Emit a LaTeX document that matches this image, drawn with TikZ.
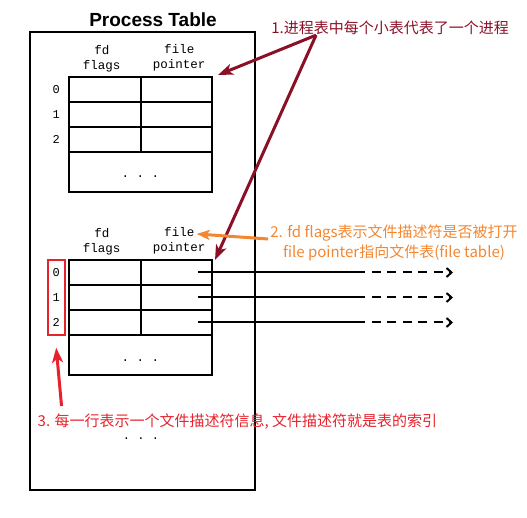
\documentclass[tikz,border=0pt]{standalone}
\usepackage{fontspec}
\setmonofont{Liberation Mono}
\newfontfamily\cjk{Noto Sans CJK SC}
\newfontfamily\titlefont{Liberation Sans}
\usepackage{tikz}
\usetikzlibrary{positioning}
\usetikzlibrary{fit}
\usetikzlibrary{arrows.meta}
\definecolor{procred}{RGB}{139,16,38}
\definecolor{noteorange}{RGB}{243,134,48}
\definecolor{notered}{RGB}{232,34,44}
\tikzstyle{cell} = [rectangle, draw=black, line width=2pt, inner sep=0pt,
outer sep=0pt, minimum width=71.5pt, minimum height=25pt, node distance=0]
\tikzstyle{bigcell} = [cell, minimum width=143pt, minimum height=40pt,
text height=12pt, text depth=0pt, font=\ttfamily\fontsize{12.5}{12.5}\selectfont]
\tikzstyle{head} = [align=center, inner sep=0pt, font=\ttfamily\fontsize{12.5}{15}\selectfont]
\tikzstyle{idx} = [inner sep=0pt, font=\ttfamily\fontsize{12}{12}\selectfont]
\tikzstyle{note} = [inner sep=0pt, font=\cjk\fontsize{15}{20}\selectfont]
\tikzstyle{redbox} = [rectangle, draw=notered, line width=2pt, inner xsep=4.5pt, inner ysep=8pt]
\tikzstyle{fline} = [line width=2pt]
\tikzstyle{fdash} = [line width=2pt, dash pattern=on 9pt off 6.5pt, dash phase=9pt,
-{Straight Barb[length=5pt,width=9pt]}]
\tikzstyle{callout} = [line width=3pt, -{Stealth[length=15pt,width=11pt,inset=4pt]}]

\begin{document}
\begin{tikzpicture}
  [
    x=1pt, y=1pt,
    title/.style={inner sep=0pt, font=\titlefont\bfseries\fontsize{19}{19}\selectfont}
    ]

\useasboundingbox (0,0) rectangle (527,517);

\node[rectangle, draw=black, line width=2pt, minimum width=225pt,
  minimum height=458pt] (ptable) at (142.5,256) {};
\node[title] (ttl) at (153,497) {Process Table};

        % first process
        \node[cell] (a10) at (104.75,427.5) {}; %
        \node[cell, right=of a10] (b10) {}; %
        \node[cell, below=of a10] (a11) {}; %
        \node[cell, right=of a11] (b11) {}; %
        \node[cell, below=of a11] (a12) {}; %
        \node[cell, right=of a12] (b12) {}; %
        \node[bigcell, below=of a12.south east] (c1) {. . .}; %

        \node[head, above=5pt of a10, xshift=-3pt] (hd1a) {fd\\flags}; %
        \node[head, above=6pt of b10, xshift=3pt] (hd1b) {file\\pointer}; %

        \node[idx, left=9pt of a10] (i10) {0}; %
        \node[idx, left=9pt of a11] (i11) {1}; %
        \node[idx, left=9pt of a12] (i12) {2}; %

        % second process
        \node[cell] (a20) at (104.75,244.5) {}; %
        \node[cell, right=of a20] (b20) {}; %
        \node[cell, below=of a20] (a21) {}; %
        \node[cell, right=of a21] (b21) {}; %
        \node[cell, below=of a21] (a22) {}; %
        \node[cell, right=of a22] (b22) {}; %
        \node[bigcell, below=of a22.south east] (c2) {. . .}; %

        \node[head, above=5pt of a20, xshift=-3pt] (hd2a) {fd\\flags}; %
        \node[head, above=6pt of b20, xshift=3pt] (hd2b) {file\\pointer}; %

        \node[idx, left=9pt of a20] (i20) {0}; %
        \node[idx, left=9pt of a21] (i21) {1}; %
        \node[idx, left=9pt of a22] (i22) {2}; %
        \node[redbox, fit=(i20)(i22)] (rbox) {}; %

        \node[idx] (more) at (141,78) {. . .}; %

        % file table ends
        \coordinate (s0) at (365,244.5);
        \coordinate (e0) at (453,244.5);
        \coordinate (s1) at (365,219.5);
        \coordinate (e1) at (453,219.5);
        \coordinate (s2) at (365,194.5);
        \coordinate (e2) at (453,194.5);

        % notes
        \node[note, text=procred] (note1) at (390,489) {1.进程表中每个小表代表了一个进程}; %
        \node[note, text=noteorange, align=center] (note2) at (394,274)
          {2. fd flags表示文件描述符是否被打开\\file pointer指向文件表(file table)}; %
        \node[note, text=notered] (note3) at (237.5,95)
          {3. 每一行表示一个文件描述符信息, 文件描述符就是表的索引}; %

        \draw[fline] ([xshift=-14pt]b20.east) -- (s0);
        \draw[fdash] (s0) -- (e0);
        \draw[fline] ([xshift=-14pt]b21.east) -- (s1);
        \draw[fdash] (s1) -- (e1);
        \draw[fline] ([xshift=-14pt]b22.east) -- (s2);
        \draw[fdash] (s2) -- (e2);

        \path ([xshift=45pt]note1.south west) edge[callout, procred] ([shift={(6pt,2pt)}]b10.north east);
        \path ([xshift=45pt]note1.south west) edge[callout, procred] ([xshift=3pt]b20.north east);
        \path ([shift={(-2pt,4pt)}]note2.west) edge[callout, noteorange, -{Stealth[length=13pt,width=10pt,inset=3pt]}] ([shift={(-9pt,-7pt)}]hd2b.north east);
        \path ([shift={(24pt,8pt)}]note3.north west) edge[callout, notered] ([yshift=-12pt]rbox.south);
\end{tikzpicture}
\end{document}
